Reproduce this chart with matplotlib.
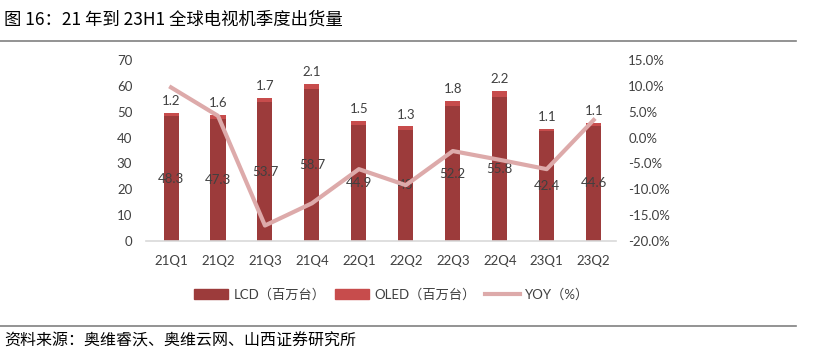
import numpy as np
import matplotlib.pyplot as plt
from matplotlib.patches import Patch
from matplotlib.lines import Line2D

plt.rcParams['font.family'] = ['Lato', 'Noto Sans CJK SC', 'DejaVu Sans']

quarters = ["21Q1", "21Q2", "21Q3", "21Q4", "22Q1", "22Q2", "22Q3", "22Q4", "23Q1", "23Q2"]
lcd = [48.3, 47.3, 53.7, 58.7, 44.9, 43, 52.2, 55.8, 42.4, 44.6]
oled = [1.2, 1.6, 1.7, 2.1, 1.5, 1.3, 1.8, 2.2, 1.1, 1.1]
yoy = [9.7, 4.2, -17.0, -12.7, -6.1, -9.2, -2.6, -4.3, -6.1, 3.4]

c_lcd = "#9C3B3B"
c_oled = "#C74C4C"
c_yoy = "#DDAAAA"
c_txt = "#404040"
fs = 9.5

fig = plt.figure(figsize=(8.21, 3.55), dpi=100)
ax = fig.add_axes([0.178, 0.321, 0.572, 0.510])
x = np.arange(len(quarters))
w = 0.32

ax.bar(x, lcd, w, color=c_lcd, zorder=2)
ax.bar(x, oled, w, bottom=lcd, color=c_oled, zorder=2)

for i in range(len(x)):
    ax.text(x[i], lcd[i] / 2, f"{lcd[i]:g}", ha="center", va="center",
            fontsize=fs, color=c_txt, zorder=5)
    ax.text(x[i], lcd[i] + oled[i] + 2.3, f"{oled[i]:g}", ha="center", va="bottom",
            fontsize=fs, color=c_txt, zorder=5)

ax.set_ylim(0, 70)
ax.set_yticks(range(0, 71, 10))
ax.set_xlim(-0.53, 9.47)
ax.set_xticks(x)
ax.set_xticklabels(quarters)
for s in ["top", "right", "left"]:
    ax.spines[s].set_visible(False)
ax.spines["bottom"].set_color("#D9D9D9")
ax.spines["bottom"].set_linewidth(1.2)
ax.tick_params(axis="both", length=0, labelsize=fs, labelcolor=c_txt)
ax.tick_params(axis="y", pad=10)
ax.tick_params(axis="x", pad=10)

ax2 = ax.twinx()
ax2.plot(x, yoy, color=c_yoy, linewidth=3, zorder=3)
ax2.set_ylim(-20, 15)
ax2.set_yticks(np.arange(-20, 16, 5))
ax2.set_yticklabels([f"{v:.1f}%" for v in np.arange(-20, 16, 5)])
for s in ["top", "right", "left", "bottom"]:
    ax2.spines[s].set_visible(False)
ax2.tick_params(axis="y", length=0, labelsize=fs, labelcolor=c_txt, pad=9)

handles = [Patch(color=c_lcd), Patch(color=c_oled), Line2D([], [], color=c_yoy, linewidth=3)]
labels = ["LCD（百万台）", "OLED（百万台）", "YOY（%）"]
fig.legend(handles, labels, loc="center", bbox_to_anchor=(0.477, 0.17), ncol=3,
           frameon=False, fontsize=fs, handlelength=2.6, handleheight=0.8,
           columnspacing=0.7, handletextpad=0.4, labelcolor=c_txt)

fig.text(0.005, 0.945, "图 16：21 年到 23H1 全球电视机季度出货量", fontsize=12.5,
         family=["Noto Sans CJK SC"], va="center", color="black")
fig.add_artist(Line2D([0, 0.97], [0.884, 0.884], color="#808080", linewidth=1.2))
fig.add_artist(Line2D([0, 0.97], [0.083, 0.083], color="#808080", linewidth=1.2))
fig.text(0.005, 0.04, "资料来源：奥维睿沃、奥维云网、山西证券研究所", fontsize=11.5,
         family=["Noto Sans CJK SC"], va="center", color="black")

fig.savefig("out.png", dpi=100)
